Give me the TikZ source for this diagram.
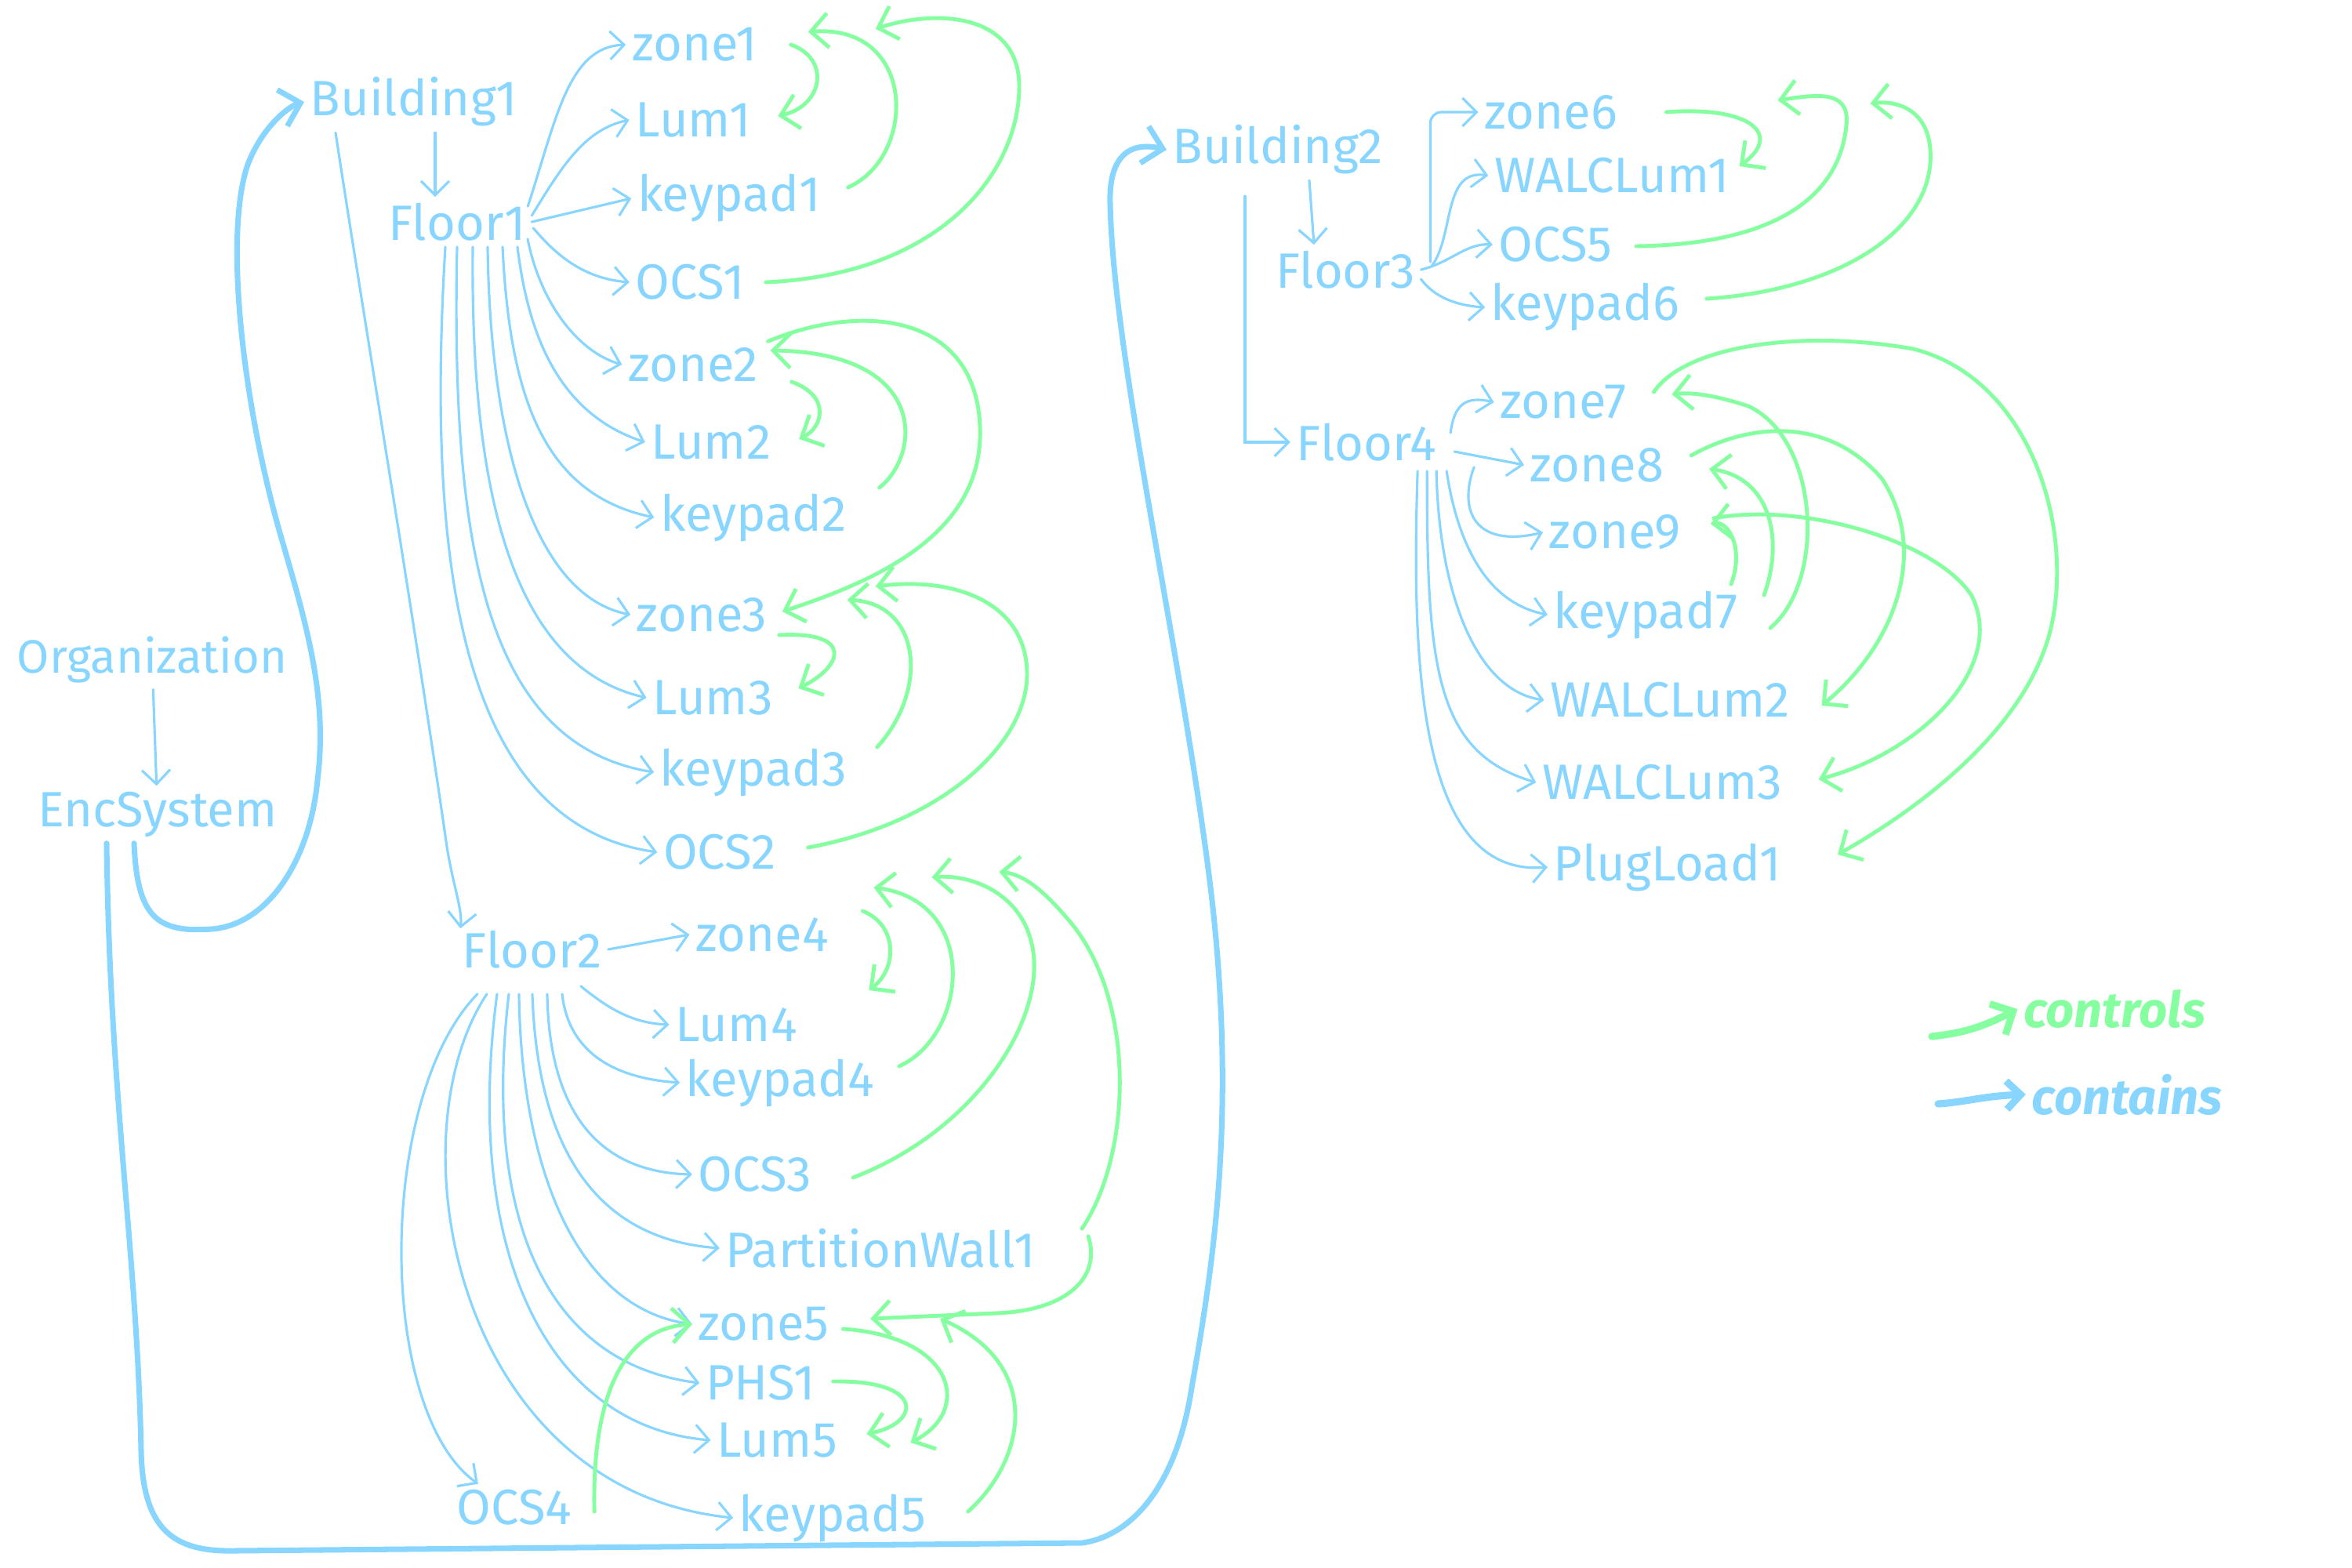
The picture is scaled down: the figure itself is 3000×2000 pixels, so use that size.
\documentclass[tikz,border=0pt]{standalone}
\usepackage{fontspec}
\setmainfont{Fira Sans}
\usepackage{tikz}
\usetikzlibrary{arrows.meta,calc}
\definecolor{linkblue}{HTML}{88D6FF}
\definecolor{linkgreen}{HTML}{86FFA0}

\begin{document}
\begin{tikzpicture}[
  x=0.01cm, y=-0.01cm,
  every node/.style={text=linkblue, inner sep=2pt, font=\fontsize{18}{20}\selectfont},
  contarr/.style={draw=linkblue, line width=0.9pt, line cap=round, -{Straight Barb[length=1.8mm, width=3.6mm]}},
  bigcontarr/.style={draw=linkblue, line width=2pt, line cap=round, -{Straight Barb[length=2.4mm, width=4.8mm]}},
  ctrlarr/.style={draw=linkgreen, line width=1.4pt, line cap=round, -{Straight Barb[length=2.2mm, width=4.4mm]}},
]
  \useasboundingbox (0,0) rectangle (3000,2000);

  % Organization
  \node[font=\fontsize{17}{19}\selectfont] (org) at (194,842) {Organization};
  \node (enc) at (201,1039) {EncSystem};

  % Building 1 / Floor 1
  \node (bldg1) at (528,130) {Building1};
  \node (floor1) at (583,283) {Floor1};
  \node (zone1) at (886,57) {zone1};
  \node (lum1) at (884,153) {Lum1};
  \node (keypad1) at (930,253) {keypad1};
  \node (ocs1) at (880,360) {OCS1};
  \node (zone2) at (884,465) {zone2};
  \node (lum2) at (907,564) {Lum2};
  \node (keypad2) at (961,660) {keypad2};
  \node (zone3) at (895,784) {zone3};
  \node (lum3) at (909,890) {Lum3};
  \node (keypad3) at (961,985) {keypad3};
  \node (ocs2) at (918,1087) {OCS2};

  % Floor 2
  \node (floor2) at (679,1211) {Floor2};
  \node (zone4) at (972,1192) {zone4};
  \node (lum4) at (939,1307) {Lum4};
  \node (keypad4) at (995,1381) {keypad4};
  \node (ocs3) at (963,1498) {OCS3};
  \node (pwall1) at (1123,1592) {PartitionWall1};
  \node (zone5) at (974,1689) {zone5};
  \node (phs1) at (970,1764) {PHS1};
  \node (lum5) at (991,1837) {Lum5};
  \node (ocs4) at (656,1923) {OCS4};
  \node (keypad5) at (1062,1936) {keypad5};

  % Building 2 / Floor 3
  \node (bldg2) at (1630,191) {Building2};
  \node (floor3) at (1716,344) {Floor3};
  \node (zone6) at (1978,143) {zone6};
  \node (walclum1) at (2056,224) {WALCLum1};
  \node (ocs5) at (1984,312) {OCS5};
  \node (keypad6) at (2022,392) {keypad6};

  % Floor 4
  \node (floor4) at (1743,564) {Floor4};
  \node (zone7) at (1994,513) {zone7};
  \node (zone8) at (2037,593) {zone8};
  \node (zone9) at (2060,679) {zone9};
  \node (keypad7) at (2099,784) {keypad7};
  \node (walclum2) at (2130,893) {WALCLum2};
  \node (walclum3) at (2120,998) {WALCLum3};
  \node (plugload1) at (2127,1106) {PlugLoad1};

  % Legend
  \coordinate (ctrlfrom) at (2464,1322);
  \coordinate (contfrom) at (2472,1408);
  \node[text=linkgreen, font=\fontsize{18}{20}\selectfont\bfseries\itshape] (ctrltxt) at (2697,1287) {controls};
  \node[font=\fontsize{18}{20}\selectfont\bfseries\itshape] (conttxt) at (2713,1396) {contains};
  \draw[ctrlarr, line width=2.6pt] (ctrlfrom) .. controls (2500,1318) and (2525,1312) .. (ctrltxt.west);
  \draw[contarr, line width=2.6pt] (contfrom) .. controls (2505,1406) and (2530,1398) .. (conttxt.west);

  % Edges: contains
  \draw[contarr] (org) -- (enc);
  \draw[bigcontarr] ($(enc.south)+(-30,0)$) .. controls (175,1170) and (200,1190) .. (270,1185)
    .. controls (340,1180) and (395,1100) .. (405,995) .. controls (418,890) and (392,800) .. (360,690)
    .. controls (310,520) and (285,300) .. (316,210) .. controls (335,160) and (370,135) .. (bldg1.west);
  \draw[bigcontarr] ($(enc.south)+(-65,0)$) .. controls (140,1400) and (175,1600) .. (180,1850)
    .. controls (182,1950) and (220,1980) .. (300,1978) -- (1380,1968)
    .. controls (1440,1960) and (1500,1900) .. (1520,1770) .. controls (1550,1600) and (1580,1400) .. (1540,1100)
    .. controls (1500,800) and (1420,450) .. (1416,260) .. controls (1414,200) and (1440,180) .. (bldg2.west);

  \draw[contarr] ($(bldg1.south)+(27,0)$) -- ($(floor1.north)+(-28,0)$);
  \draw[contarr] ($(bldg1.south west)+(40,0)$) .. controls (460,380) and (530,800) .. (570,1080)
    .. controls (578,1130) and (590,1160) .. ($(floor2.north west)+(5,5)$);

  \draw[contarr] ($(floor1.north east)+(-5,12)$) .. controls (710,150) and (725,60) .. (zone1.west);
  \draw[contarr] ($(floor1.east)+(0,-8)$) .. controls (715,215) and (745,165) .. (lum1.west);
  \draw[contarr] (floor1.east) -- (keypad1.west);
  \draw[contarr] ($(floor1.east)+(2,8)$) .. controls (705,320) and (740,355) .. (ocs1.west);
  \draw[contarr] ($(floor1.south)+(90,-10)$) .. controls (690,390) and (740,450) .. (zone2.west);
  \draw[contarr] ($(floor1.south)+(77,0)$) .. controls (675,440) and (720,530) .. (lum2.west);
  \draw[contarr] ($(floor1.south)+(58,0)$) .. controls (650,500) and (690,630) .. (keypad2.west);
  \draw[contarr] ($(floor1.south)+(39,0)$) .. controls (625,560) and (680,760) .. (zone3.west);
  \draw[contarr] ($(floor1.south)+(20,0)$) .. controls (600,620) and (650,850) .. (lum3.west);
  \draw[contarr] (floor1.south) .. controls (575,700) and (620,950) .. (keypad3.west);
  \draw[contarr] ($(floor1.south)+(-15,0)$) .. controls (545,700) and (580,1050) .. (ocs2.west);

  \draw[contarr] (floor2.east) -- (zone4.west);
  \draw[contarr] ($(floor2.south east)+(-35,15)$) .. controls (780,1290) and (810,1305) .. (lum4.west);
  \draw[contarr] ($(floor2.south)+(38,25)$) .. controls (725,1340) and (780,1375) .. (keypad4.west);
  \draw[contarr] ($(floor2.south)+(19,25)$) .. controls (700,1400) and (750,1495) .. (ocs3.west);
  \draw[contarr] ($(floor2.south)+(0,25)$) .. controls (685,1450) and (750,1580) .. (pwall1.west);
  \draw[contarr] ($(floor2.south)+(-17,25)$) .. controls (665,1500) and (740,1670) .. (zone5.west);
  \draw[contarr] ($(floor2.south)+(-30,25)$) .. controls (615,1560) and (700,1740) .. (phs1.west);
  \draw[contarr] ($(floor2.south)+(-45,25)$) .. controls (590,1600) and (700,1820) .. (lum5.west);
  \draw[contarr] ($(floor2.south)+(-58,25)$) .. controls (500,1450) and (580,1900) .. (keypad5.west);
  \draw[contarr] ($(floor2.south)+(-70,25)$) .. controls (480,1400) and (480,1800) .. ($(ocs4.north west)+(35,0)$);

  \draw[contarr] ($(bldg2.south)+(40,0)$) -- ($(floor3.north)+(-40,0)$);
  \draw[contarr] ($(bldg2.south west)+(100,20)$) |- (floor4.west);

  \draw[contarr, rounded corners=4pt] ($(floor3.east)+(12,-10)$) |- (zone6.west);
  \draw[contarr] ($(floor3.east)+(14,-5)$) .. controls (1855,300) and (1840,215) .. (walclum1.west);
  \draw[contarr] (floor3.east) .. controls (1850,335) and (1870,310) .. (ocs5.west);
  \draw[contarr] ($(floor3.east)+(0,12)$) .. controls (1830,380) and (1860,390) .. (keypad6.west);

  \draw[contarr] ($(floor4.east)+(10,-12)$) .. controls (1855,515) and (1870,505) .. (zone7.west);
  \draw[contarr] ($(floor4.east)+(15,12)$) -- (zone8.west);
  \draw[contarr] ($(floor4.south east)+(40,0)$) .. controls (1860,650) and (1880,700) .. (zone9.west);
  \draw[contarr] ($(floor4.south east)+(5,5)$) .. controls (1860,700) and (1900,770) .. (keypad7.west);
  \draw[contarr] ($(floor4.south east)+(-8,5)$) .. controls (1835,750) and (1880,880) .. (walclum2.west);
  \draw[contarr] ($(floor4.south east)+(-20,5)$) .. controls (1820,850) and (1830,960) .. (walclum3.west);
  \draw[contarr] ($(floor4.south east)+(-32,5)$) .. controls (1800,850) and (1810,1120) .. (plugload1.west);

  % Edges: controls
  \draw[ctrlarr] ($(zone1.east)+(35,0)$) .. controls (1060,75) and (1050,135) .. ($(lum1.east)+(27,-5)$);
  \draw[ctrlarr] ($(keypad1.east)+(27,-14)$) .. controls (1170,200) and (1170,30) .. ($(zone1.north east)+(57,13)$);
  \draw[ctrlarr] ($(ocs1.east)+(20,0)$) .. controls (1200,350) and (1300,220) .. (1300,110)
    .. controls (1300,20) and (1200,10) .. ($(zone1.north east)+(143,9)$);

  \draw[ctrlarr] ($(zone2.east)+(35,22)$) .. controls (1060,505) and (1050,545) .. ($(lum2.east)+(28,-4)$);
  \draw[ctrlarr] ($(keypad2.east)+(34,-38)$) .. controls (1175,580) and (1185,450) .. ($(zone2.east)+(8,-18)$);
  \draw[ctrlarr] ($(zone2.north east)+(5,0)$) .. controls (1100,385) and (1245,400) .. (1250,545)
    .. controls (1255,680) and (1120,740) .. ($(zone3.east)+(12,-4)$);
  \draw[ctrlarr] ($(keypad3.east)+(31,-32)$) .. controls (1185,880) and (1175,770) .. ($(zone3.east)+(95,-19)$);
  \draw[ctrlarr] ($(ocs2.east)+(33,-6)$) .. controls (1200,1050) and (1310,950) .. (1310,860)
    .. controls (1310,770) and (1220,735) .. ($(zone3.east)+(131,-36)$);
  \draw[ctrlarr] ($(zone3.east)+(8,26)$) .. controls (1090,805) and (1075,850) .. ($(lum3.east)+(25,-12)$);

  \draw[ctrlarr] ($(zone4.east)+(36,-30)$) .. controls (1145,1180) and (1145,1235) .. ($(lum4.east)+(84,-44)$);
  \draw[ctrlarr] ($(keypad4.east)+(24,-21)$) .. controls (1235,1320) and (1250,1150) .. ($(zone4.east)+(50,-60)$);
  \draw[ctrlarr] ($(ocs3.east)+(45,4)$) .. controls (1250,1440) and (1340,1290) .. (1315,1200)
    .. controls (1300,1140) and (1240,1115) .. ($(zone4.east)+(124,-73)$);
  \draw[ctrlarr] ($(pwall1.east)+(52,-25)$) .. controls (1445,1470) and (1450,1270) .. (1360,1170)
    .. controls (1330,1135) and (1305,1115) .. ($(zone4.east)+(210,-80)$);
  \draw[ctrlarr] ($(pwall1.east)+(60,-15)$) .. controls (1405,1630) and (1360,1672) .. (1270,1675)
    -- ($(zone5.east)+(45,-7)$);
  \draw[ctrlarr] ($(zone5.east)+(10,6)$) .. controls (1220,1705) and (1240,1800) .. ($(lum5.east)+(86,3)$);
  \draw[ctrlarr] ($(phs1.east)+(15,-2)$) .. controls (1180,1760) and (1175,1815) .. ($(lum5.east)+(30,-8)$);
  \draw[ctrlarr] ($(keypad5.east)+(46,-8)$) .. controls (1310,1860) and (1330,1740) .. ($(zone5.east)+(134,-7)$);
  \draw[ctrlarr] ($(ocs4.east)+(21,5)$) .. controls (755,1790) and (790,1695) .. (zone5.west);

  \draw[ctrlarr] ($(zone6.east)+(55,0)$) .. controls (2230,135) and (2275,170) .. ($(walclum1.east)+(5,-12)$);
  \draw[ctrlarr] ($(ocs5.east)+(23,2)$) .. controls (2250,312) and (2345,260) .. (2355,160)
    .. controls (2360,115) and (2320,120) .. ($(zone6.east)+(197,-15)$);
  \draw[ctrlarr] ($(keypad6.east)+(27,-11)$) .. controls (2350,370) and (2470,290) .. (2462,190)
    .. controls (2458,140) and (2420,128) .. ($(zone6.east)+(315,-11)$);

  \draw[ctrlarr] ($(zone7.east)+(27,-13)$) .. controls (2150,440) and (2300,420) .. (2440,445)
    .. controls (2580,480) and (2640,650) .. (2620,780) .. controls (2600,920) and (2450,1030) .. ($(plugload1.east)+(64,-16)$);
  \draw[ctrlarr] ($(keypad7.east)+(34,17)$) .. controls (2330,740) and (2320,560) .. (2230,518)
    .. controls (2190,505) and (2160,500) .. ($(zone7.east)+(50,-10)$);
  \draw[ctrlarr] ($(keypad7.east)+(26,-25)$) .. controls (2275,690) and (2260,610) .. ($(zone8.east)+(50,5)$);
  \draw[ctrlarr] ($(keypad7.east)+(-16,-39)$) .. controls (2225,700) and (2205,665) .. ($(zone9.east)+(30,-11)$);
  \draw[ctrlarr] ($(zone8.east)+(27,-12)$) .. controls (2230,540) and (2330,530) .. (2400,610)
    .. controls (2460,700) and (2420,820) .. ($(walclum2.east)+(33,7)$);
  \draw[ctrlarr] ($(zone9.east)+(34,-18)$) .. controls (2300,640) and (2470,690) .. (2515,760)
    .. controls (2560,850) and (2450,960) .. ($(walclum3.east)+(39,-4)$);
\end{tikzpicture}
\end{document}
